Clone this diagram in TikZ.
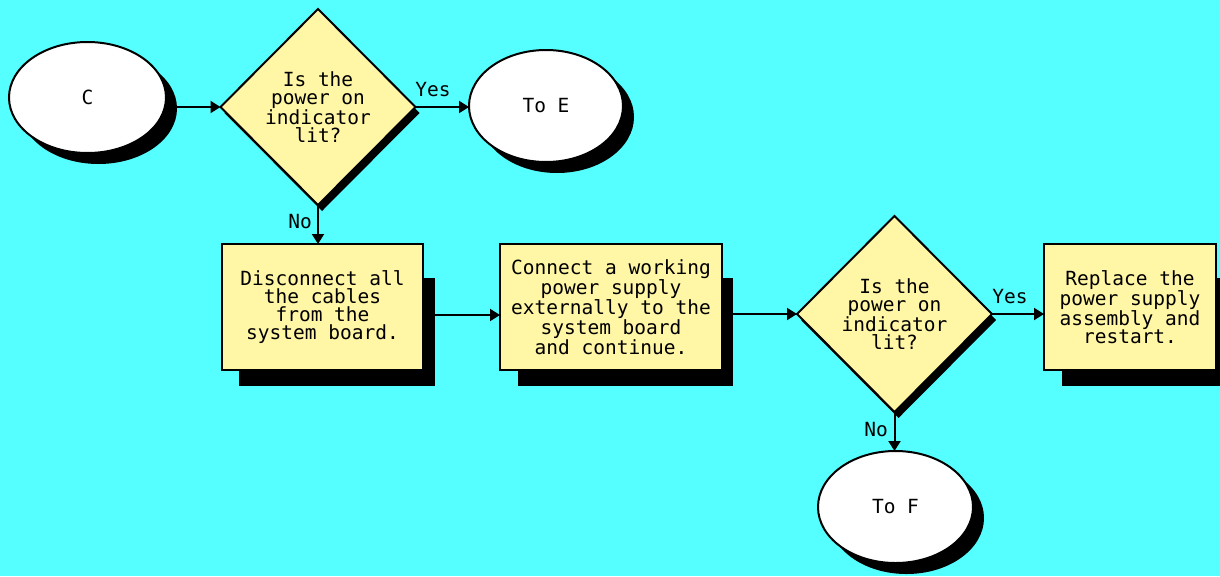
\documentclass[tikz,border=0pt]{standalone}
\usepackage{fontspec}
\newfontfamily\chartfont{DejaVu Sans Mono}
\usetikzlibrary{shapes.geometric,arrows.meta,calc}
\definecolor{sky}{HTML}{55FFFF}
\definecolor{note}{HTML}{FFF6A6}
\tikzset{
  chart/.style={font=\chartfont\fontsize{19.5}{18}\selectfont, text=black},
  terminal/.style={ellipse, draw=black, line width=2pt, fill=white, inner sep=0pt, outer sep=0pt, chart},
  termshade/.style={ellipse, fill=black, inner sep=0pt, outer sep=0pt},
  decision/.style={diamond, draw=black, line width=2pt, fill=note, inner sep=0pt, outer sep=0pt, align=center, chart},
  diashade/.style={diamond, fill=black, inner sep=0pt, outer sep=0pt},
  stepbox/.style={rectangle, draw=black, line width=2pt, fill=note, inner sep=0pt, outer sep=0pt, align=center, chart},
  boxshade/.style={rectangle, fill=black, inner sep=0pt, outer sep=0pt},
  flow/.style={draw=black, line width=2pt, -{Triangle[length=10pt,width=12pt]}},
  tag/.style={chart, inner sep=0pt}
}
\begin{document}
\begin{tikzpicture}[x=1pt,y=-1pt]
  \fill[sky] (0,0) rectangle (1220,576);
  \useasboundingbox (0,0) rectangle (1220,576);
  \clip (0,0) rectangle (1220,576);

  % drop shadows
  \node[termshade, minimum width=157pt, minimum height=111pt] (Cs) at (98.5,108.5) {};
  \node[termshade, minimum width=154pt, minimum height=112pt] (Es) at (557,117) {};
  \node[termshade, minimum width=155pt, minimum height=112pt] (Fs) at (906.5,518) {};
  \node[diashade, minimum width=195pt, minimum height=196pt] (D1s) at (322,113) {};
  \node[diashade, minimum width=195pt, minimum height=196pt] (D2s) at (898.5,320) {};
  \node[boxshade, minimum width=196pt, minimum height=108pt] (B1s) at (337,332) {};
  \node[boxshade, minimum width=215pt, minimum height=108pt] (B2s) at (625.5,332) {};
  \node[boxshade, minimum width=166pt, minimum height=108pt] (B3s) at (1145,332) {};

  % terminals
  \node[terminal, minimum width=157pt, minimum height=111pt] (C) at (87.5,97.5) {C};
  \node[terminal, minimum width=154pt, minimum height=112pt] (E) at (546,106) {To E};
  \node[terminal, minimum width=155pt, minimum height=112pt] (F) at (895.5,507) {To F};

  % decisions
  \node[decision, minimum width=195pt, minimum height=196pt] (D1) at (318,107)
    {Is the\\power on\\indicator\\lit?};
  \node[decision, minimum width=195pt, minimum height=196pt] (D2) at (894.5,314)
    {Is the\\power on\\indicator\\lit?};

  % process steps
  \node[stepbox, minimum width=201pt, minimum height=126pt] (B1) at (322.5,307)
    {Disconnect all\\the cables\\from the\\system board.};
  \node[stepbox, minimum width=222pt, minimum height=126pt] (B2) at (611,307)
    {Connect a working\\power supply\\externally to the\\system board\\and continue.};
  \node[stepbox, minimum width=172pt, minimum height=126pt] (B3) at (1130,307)
    {\fontsize{19.5}{17}\selectfont Replace the\\power supply\\assembly and\\restart.};

  % connectors
  \coordinate (row) at (0,315);
  \draw[flow] (D1.west -| Cs.east) -- (D1.west);
  \draw[flow] (D1.east) -- (D1.east -| E.west);
  \draw[flow] (D1.south) -- (D1.south |- B1.north);
  \draw[flow] (B1s.east |- row) -- (B2.west |- row);
  \draw[flow] (B2s.east |- D2.west) -- (D2.west);
  \draw[flow] (D2.east) -- (D2.east -| B3.west);
  \draw[flow] (D2.south) -- (D2.south |- F.north);

  % branch labels
  \node[tag] (y1) at (433,90) {Yes};
  \node[tag] (n1) at (300,222) {No};
  \node[tag] (y2) at (1010,297) {Yes};
  \node[tag] (n2) at (876,430) {No};
\end{tikzpicture}
\end{document}
